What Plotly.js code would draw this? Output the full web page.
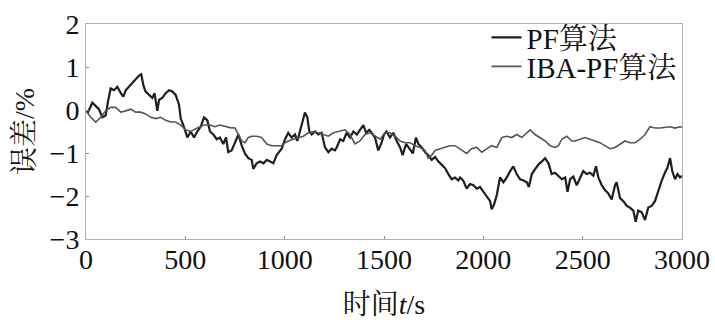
<!DOCTYPE html>
<html>
<head>
<meta charset="utf-8">
<script src="https://cdn.plot.ly/plotly-3.0.1.min.js"></script>
<style>html,body{margin:0;padding:0;background:#fff;}#chart{width:715px;height:320px;}</style>
</head>
<body>
<div id="chart"></div>
<script>
// PF算法 (black) — time (s) and error (%)
const pfTime = [0,10,32,49,65,82,99,111,124,141,158,175,188,200,216,233,250,267,278,289,300,317,334,345,359,368,384,401,418,435,451,468,477,493,510,527,544,560,577,594,611,624,641,658,674,691,705,716,733,750,767,784,800,817,834,842,859,876,893,910,926,943,960,985,1002,1018,1035,1052,1064,1077,1091,1102,1114,1124,1136,1153,1169,1186,1203,1220,1236,1253,1262,1279,1295,1312,1329,1346,1363,1379,1396,1410,1426,1438,1455,1471,1488,1500,1513,1530,1547,1564,1581,1594,1611,1628,1645,1661,1673,1690,1706,1723,1740,1757,1774,1790,1807,1824,1841,1858,1874,1883,1899,1916,1933,1950,1967,1983,2000,2017,2034,2042,2054,2068,2084,2101,2118,2135,2151,2168,2185,2202,2219,2229,2244,2260,2277,2294,2311,2328,2344,2361,2378,2395,2412,2424,2437,2453,2470,2487,2503,2520,2537,2554,2567,2579,2596,2612,2629,2646,2663,2671,2688,2705,2722,2738,2755,2767,2780,2797,2814,2830,2847,2864,2881,2898,2914,2926,2940,2951,2965,2977,2990,3000];
const pfError = [-0.02,-0.05,0.17,0.09,0.02,-0.17,-0.13,0.2,0.5,0.46,0.54,0.39,0.31,0.46,0.54,0.61,0.72,0.8,0.83,0.57,0.43,0.35,0.28,0.39,-0.02,0.24,0.28,0.39,0.46,0.43,0.35,0.13,-0.2,-0.39,-0.64,-0.5,-0.64,-0.5,-0.39,-0.17,-0.24,-0.5,-0.57,-0.68,-0.64,-0.79,-0.64,-0.98,-0.94,-0.76,-0.57,-0.83,-1.01,-1.12,-1.16,-1.37,-1.24,-1.2,-1.24,-1.16,-1.2,-1.24,-1.05,-0.9,-0.68,-0.53,-0.64,-0.57,-0.72,-0.5,-0.2,-0.06,-0.17,-0.5,-0.57,-0.5,-0.57,-0.53,-0.87,-0.98,-0.9,-0.94,-0.87,-0.68,-0.72,-0.53,-0.64,-0.5,-0.57,-0.46,-0.35,-0.53,-0.46,-0.53,-0.64,-0.94,-0.76,-0.57,-0.5,-0.64,-0.53,-0.72,-0.87,-1.05,-0.79,-0.9,-1.01,-0.64,-0.79,-0.87,-0.98,-1.05,-1.16,-1.09,-1.2,-1.27,-1.35,-1.49,-1.61,-1.57,-1.64,-1.57,-1.64,-1.83,-1.72,-1.75,-1.83,-1.79,-1.9,-2.01,-2.12,-2.31,-2.2,-1.97,-1.57,-1.68,-1.57,-1.42,-1.31,-1.49,-1.61,-1.64,-1.68,-1.79,-1.49,-1.38,-1.27,-1.2,-1.12,-1.24,-1.49,-1.46,-1.53,-1.61,-1.57,-1.9,-1.61,-1.55,-1.75,-1.57,-1.42,-1.49,-1.46,-1.53,-1.31,-1.57,-1.75,-1.86,-1.94,-2.08,-1.75,-1.68,-2.05,-2.12,-2.23,-2.27,-2.34,-2.6,-2.34,-2.38,-2.56,-2.27,-2.23,-2.12,-1.86,-1.64,-1.46,-1.35,-1.12,-1.42,-1.61,-1.49,-1.57,-1.53];

// IBA-PF算法 (gray)
const ibaTime = [0,24,49,74,99,124,149,175,200,225,250,275,300,326,351,376,401,426,451,477,502,527,560,594,624,649,674,700,725,750,767,784,800,817,834,859,884,910,935,960,985,1002,1018,1043,1069,1094,1119,1144,1169,1194,1220,1245,1270,1279,1304,1329,1354,1379,1404,1430,1455,1480,1505,1530,1556,1581,1606,1631,1656,1681,1706,1723,1740,1757,1782,1807,1832,1858,1883,1916,1941,1967,1992,2017,2042,2068,2093,2118,2143,2168,2194,2219,2236,2260,2286,2311,2336,2361,2378,2395,2420,2445,2461,2487,2512,2537,2562,2587,2612,2638,2663,2688,2713,2738,2764,2789,2814,2839,2864,2889,2914,2940,2965,2990,3000];
const ibaError = [-0.02,-0.17,-0.28,-0.17,-0.02,0.06,0.06,-0.05,-0.02,0.02,-0.05,-0.05,-0.09,-0.17,-0.2,-0.17,-0.24,-0.28,-0.28,-0.35,-0.46,-0.5,-0.42,-0.35,-0.35,-0.39,-0.35,-0.39,-0.41,-0.42,-0.57,-0.72,-0.76,-0.64,-0.61,-0.61,-0.64,-0.79,-0.83,-0.83,-0.83,-0.76,-0.72,-0.68,-0.64,-0.61,-0.53,-0.5,-0.53,-0.57,-0.61,-0.53,-0.5,-0.5,-0.46,-0.57,-0.79,-0.72,-0.57,-0.53,-0.61,-0.68,-0.53,-0.53,-0.61,-0.72,-0.76,-0.76,-0.83,-0.87,-0.94,-1.12,-1.05,-0.94,-0.9,-0.87,-0.83,-0.83,-0.9,-1.01,-0.9,-0.87,-0.98,-0.9,-0.83,-0.87,-0.64,-0.61,-0.64,-0.57,-0.64,-0.53,-0.46,-0.57,-0.64,-0.72,-0.83,-0.87,-0.83,-0.68,-0.61,-0.72,-0.72,-0.68,-0.64,-0.68,-0.72,-0.76,-0.83,-0.9,-0.87,-0.79,-0.72,-0.76,-0.76,-0.68,-0.57,-0.39,-0.42,-0.42,-0.41,-0.39,-0.42,-0.39,-0.4];

const seriesNames = ['PF算法', 'IBA-PF算法'];
const xTicks = [0, 500, 1000, 1500, 2000, 2500, 3000];
const yTicks = [-3, -2, -1, 0, 1, 2];

const FONT = '"Liberation Serif", "Times New Roman", "Noto Serif CJK SC", "Noto Sans CJK SC", serif';
const LEGEND_FONT = {family: FONT, size: 29, color: '#111'};

const traces = [
  {x: pfTime, y: pfError, name: seriesNames[0], type: 'scatter', mode: 'lines',
   line: {color: '#1e1e1e', width: 2.2}, legend: 'legend'},
  {x: ibaTime, y: ibaError, name: seriesNames[1], type: 'scatter', mode: 'lines',
   line: {color: '#555555', width: 1.6}, legend: 'legend2'}
];

const axisCommon = {
  showgrid: false, zeroline: false, showline: true, mirror: true,
  linecolor: '#b0b0b0', linewidth: 1,
  ticks: 'inside', ticklen: 3, tickcolor: '#888', tickwidth: 1,
  ticklabeloverflow: 'allow',
  tickfont: {family: FONT, size: 28, color: '#111'}
};

const layout = {
  width: 715, height: 320, autosize: false,
  margin: {l: 86, r: 33, t: 14, b: 81},
  paper_bgcolor: '#fff', plot_bgcolor: '#fff',
  font: {family: FONT, color: '#111'},
  xaxis: Object.assign({}, axisCommon, {
    range: [0, 3000], tickvals: xTicks, ticktext: xTicks.map(String),
    ticklabelstandoff: -5,
    title: {text: '时间<i>t</i>/s', font: {family: FONT, size: 28, color: '#111'}, standoff: 26}
  }),
  yaxis: Object.assign({}, axisCommon, {
    range: [-3, 2], tickvals: yTicks,
    title: {text: '误差/%', font: {family: FONT, size: 28, color: '#111'}, standoff: 6}
  }),
  showlegend: true,
  legend: {x: 0.672, xanchor: 'left', y: 1.056, yanchor: 'top', bgcolor: 'rgba(0,0,0,0)',
    font: LEGEND_FONT, itemwidth: 30},
  legend2: {x: 0.672, xanchor: 'left', y: 0.921, yanchor: 'top', bgcolor: 'rgba(0,0,0,0)',
    font: LEGEND_FONT, itemwidth: 30}
};

Plotly.newPlot('chart', traces, layout, {staticPlot: true, displayModeBar: false});
</script>
</body>
</html>
